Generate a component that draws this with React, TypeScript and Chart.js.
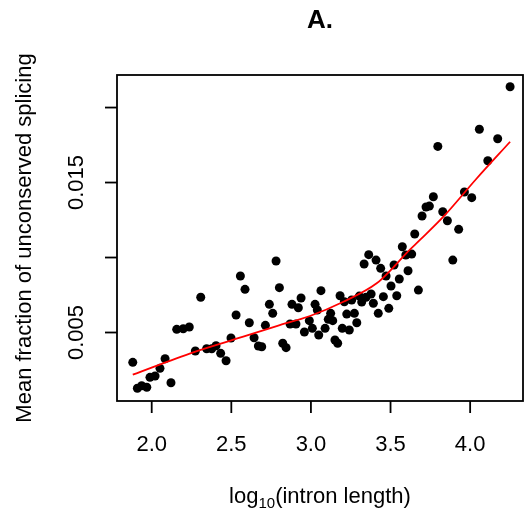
import React, { useEffect, useRef } from "react";
import { Chart, registerables } from "chart.js";
Chart.register(...registerables);

const pointX = [
  1.881, 1.910, 1.937, 1.969, 1.989, 2.021, 2.052, 2.084, 2.121, 2.157,
  2.198, 2.236, 2.274, 2.308, 2.345, 2.377, 2.404, 2.433, 2.467, 2.498,
  2.530, 2.557, 2.586, 2.613, 2.643, 2.670, 2.691, 2.714, 2.739, 2.760,
  2.781, 2.802, 2.823, 2.844, 2.869, 2.881, 2.906, 2.921, 2.938, 2.959,
  2.990, 3.009, 3.026, 3.040, 3.049, 3.063, 3.089, 3.109, 3.124, 3.137,
  3.151, 3.168, 3.183, 3.197, 3.210, 3.225, 3.241, 3.256, 3.273, 3.288,
  3.304, 3.319, 3.334, 3.346, 3.363, 3.378, 3.392, 3.409, 3.423, 3.438,
  3.455, 3.472, 3.489, 3.503, 3.522, 3.539, 3.555, 3.574, 3.596, 3.610,
  3.633, 3.652, 3.675, 3.698, 3.723, 3.744, 3.769, 3.797, 3.828, 3.857,
  3.891, 3.928, 3.964, 4.010, 4.058, 4.111, 4.173, 4.251,
];
const pointY = [
  0.00301, 0.00128, 0.00145, 0.00135, 0.00201, 0.00210, 0.00261, 0.00325, 0.00165, 0.00521,
  0.00525, 0.00537, 0.00377, 0.00735, 0.00392, 0.00392, 0.00412, 0.00361, 0.00312, 0.00463,
  0.00617, 0.00877, 0.00788, 0.00565, 0.00465, 0.00410, 0.00405, 0.00548, 0.00688, 0.00628,
  0.00977, 0.00799, 0.00428, 0.00399, 0.00557, 0.00688, 0.00557, 0.00665, 0.00730, 0.00503,
  0.00579, 0.00528, 0.00688, 0.00650, 0.00483, 0.00779, 0.00528, 0.00588, 0.00628, 0.00579,
  0.00450, 0.00428, 0.00745, 0.00528, 0.00705, 0.00623, 0.00517, 0.00717, 0.00628, 0.00565,
  0.00743, 0.00703, 0.00957, 0.00735, 0.01019, 0.00757, 0.00695, 0.00983, 0.00628, 0.00928,
  0.00739, 0.00877, 0.00661, 0.00810, 0.00950, 0.00745, 0.00857, 0.01072, 0.01017, 0.00912,
  0.01023, 0.01157, 0.00783, 0.01277, 0.01337, 0.01343, 0.01405, 0.01741, 0.01305, 0.01245,
  0.00983, 0.01188, 0.01437, 0.01399, 0.01855, 0.01645, 0.01792, 0.02139,
];
const fitX = [1.881, 2.261, 2.575, 2.785, 2.994, 3.204, 3.413, 3.518, 3.600, 3.685, 3.832, 4.041, 4.251];
const fitY = [0.00219, 0.00368, 0.00472, 0.00543, 0.0061, 0.00705, 0.00828, 0.00935, 0.0103, 0.01117, 0.01272, 0.01527, 0.01772];

const xTicks = [2.0, 2.5, 3.0, 3.5, 4.0];
const xTickLabels = ["2.0", "2.5", "3.0", "3.5", "4.0"];
const yTicks = [0.005, 0.01, 0.015, 0.02];
const yTickLabels = ["0.005", "", "0.015", ""];

const titleText = "A.";
const yTitle = "Mean fraction of unconserved splicing";
const xTitleParts = ["log", "10", "(intron length)"];

const FONT = '"Liberation Sans", Arial, Helvetica, sans-serif';

const axesPlugin = {
  id: "rAxes",
  afterDraw(chart: any) {
    const ctx = chart.ctx;
    const { left, right, top, bottom } = chart.chartArea;
    const xs = chart.scales.x;
    const ys = chart.scales.y;
    ctx.save();
    ctx.strokeStyle = "#000";
    ctx.fillStyle = "#000";
    ctx.lineWidth = 1.8;
    ctx.strokeRect(left, top, right - left, bottom - top);
    ctx.font = `22px ${FONT}`;
    xTicks.forEach((v, i) => {
      const px = xs.getPixelForValue(v);
      ctx.beginPath();
      ctx.moveTo(px, bottom);
      ctx.lineTo(px, bottom + 12);
      ctx.stroke();
      ctx.textAlign = "center";
      ctx.textBaseline = "alphabetic";
      ctx.fillText(xTickLabels[i], px, 451);
    });
    yTicks.forEach((v, i) => {
      const py = ys.getPixelForValue(v);
      ctx.beginPath();
      ctx.moveTo(left, py);
      ctx.lineTo(left - 12, py);
      ctx.stroke();
      if (yTickLabels[i]) {
        ctx.save();
        ctx.translate(83, py);
        ctx.rotate(-Math.PI / 2);
        ctx.textAlign = "center";
        ctx.textBaseline = "alphabetic";
        ctx.fillText(yTickLabels[i], 0, 0);
        ctx.restore();
      }
    });
    ctx.save();
    ctx.translate(31, (top + bottom) / 2);
    ctx.rotate(-Math.PI / 2);
    ctx.textAlign = "center";
    ctx.textBaseline = "alphabetic";
    ctx.fillText(yTitle, 0, 0);
    ctx.restore();
    const big = `22px ${FONT}`;
    const small = `15px ${FONT}`;
    ctx.font = big;
    const w1 = ctx.measureText(xTitleParts[0]).width;
    const w3 = ctx.measureText(xTitleParts[2]).width;
    ctx.font = small;
    const w2 = ctx.measureText(xTitleParts[1]).width;
    const total = w1 + w2 + w3;
    let sx = (left + right) / 2 - total / 2;
    const base = 503;
    ctx.textAlign = "left";
    ctx.textBaseline = "alphabetic";
    ctx.font = big;
    ctx.fillText(xTitleParts[0], sx, base);
    sx += w1;
    ctx.font = small;
    ctx.fillText(xTitleParts[1], sx, base + 5);
    sx += w2;
    ctx.font = big;
    ctx.fillText(xTitleParts[2], sx, base);
    ctx.font = `bold 26px ${FONT}`;
    ctx.textAlign = "center";
    ctx.fillText(titleText, (left + right) / 2, 28);
    ctx.restore();
  },
};

export default function App() {
  const ref = useRef<HTMLCanvasElement | null>(null);
  useEffect(() => {
    if (!ref.current) return;
    const chart = new Chart(ref.current, {
      type: "scatter",
      data: {
        datasets: [
          {
            label: "fit",
            data: fitX.map((x, i) => ({ x, y: fitY[i] })),
            showLine: true,
            borderColor: "#ff0000",
            borderWidth: 1.8,
            pointRadius: 0,
            cubicInterpolationMode: "monotone",
            order: 0,
          },
          {
            label: "points",
            data: pointX.map((x, i) => ({ x, y: pointY[i] })),
            backgroundColor: "#000",
            borderWidth: 0,
            pointRadius: 4.5,
            order: 1,
          },
        ],
      },
      options: {
        responsive: false,
        maintainAspectRatio: false,
        devicePixelRatio: 1,
        animation: false,
        events: [],
        layout: { padding: { left: 117, right: 6, top: 75, bottom: 111 } },
        plugins: { legend: { display: false }, tooltip: { enabled: false } },
        scales: {
          x: { type: "linear", min: 1.782, max: 4.332, display: false },
          y: { type: "linear", min: 0.000433, max: 0.02217, display: false },
        },
      } as any,
      plugins: [axesPlugin],
    });
    return () => chart.destroy();
  }, []);
  return (
    <div style={{ position: "absolute", left: 0, top: 0, width: 529, height: 512, background: "#fff" }}>
      <canvas ref={ref} width={529} height={512} style={{ display: "block" }} />
    </div>
  );
}
